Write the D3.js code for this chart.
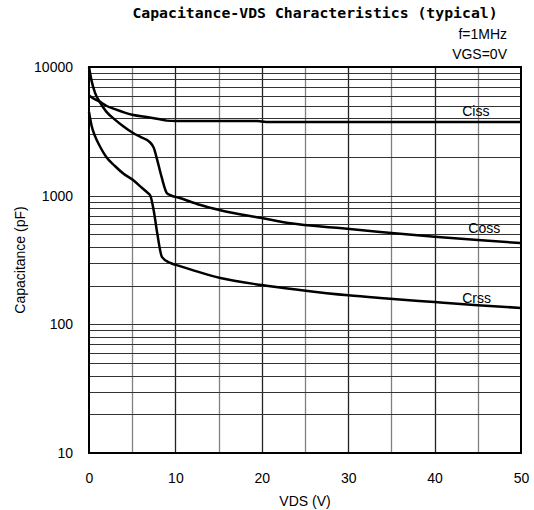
<!DOCTYPE html>
<html>
<head>
<meta charset="utf-8">
<script src="https://cdn.jsdelivr.net/npm/d3@7"></script>
<style>
  body { margin: 0; background: #fff; }
  text { font-family: "Liberation Sans", "Noto Sans", sans-serif; fill: #000; }
</style>
</head>
<body>
<div id="chart"></div>
<script>
const title = "Capacitance-VDS Characteristics (typical)";
const notes = ["f=1MHz", "VGS=0V"];
const xTicks = [0, 10, 20, 30, 40, 50];
const yTicks = [10, 100, 1000, 10000];

// VDS (V), capacitance (pF)
const cissV = [0, 0.5, 1.2, 2, 3, 5, 7, 8.2, 9, 10, 19.5, 20.5, 50];
const cissC = [6000, 5700, 5400, 5000, 4700, 4250, 4050, 3920, 3830, 3800, 3800, 3740, 3740];

const cossV = [0, 0.3, 0.7, 1.2, 2, 3, 4, 5.1, 6, 7, 7.5, 7.9, 8.4, 9, 9.4, 10.5, 12.8, 15.2, 20, 23.3, 29, 33.7, 40, 45, 50];
const cossC = [10000, 7800, 6300, 5400, 4500, 3900, 3450, 3070, 2850, 2620, 2350, 1890, 1400, 1050, 1010, 960, 850, 770, 670, 610, 560, 523, 480, 452, 428];

const crssV = [0, 0.3, 0.7, 1.3, 2, 3, 4, 5.1, 6, 6.8, 7.1, 7.5, 7.9, 8.45, 9.4, 10.5, 12, 15.2, 20, 24.4, 30, 33.7, 40, 45, 50];
const crssC = [4470, 3500, 2900, 2390, 2000, 1700, 1480, 1325, 1170, 1050, 1000, 760, 510, 333, 300, 284, 264, 229, 202, 185, 168, 160, 149, 141, 134];

const seriesNames = ["Ciss", "Coss", "Crss"];
const labelV = [43.2, 43.9, 43.2];
const labelC = [4160, 513, 147];

const margin = { top: 67, right: 13, bottom: 57, left: 89 },
  width = 534 - margin.left - margin.right,
  height = 510 - margin.top - margin.bottom;

const svg = d3
  .select("#chart")
  .append("svg")
  .attr("width", 534)
  .attr("height", 510);

const g = svg
  .append("g")
  .attr("transform", "translate(" + margin.left + "," + margin.top + ")");

const x = d3.scaleLinear().domain([0, 50]).range([0, width]);
const y = d3.scaleLog().domain([10, 10000]).range([height, 0]);

// vertical grid, every 5 V
g.append("g")
  .selectAll("line")
  .data(d3.range(5, 50, 5))
  .enter()
  .append("line")
  .attr("x1", (d) => Math.round(x(d)) + 0.5)
  .attr("x2", (d) => Math.round(x(d)) + 0.5)
  .attr("y1", 0)
  .attr("y2", height)
  .attr("stroke", (d) => (d % 10 === 0 ? "#222" : "#808080"))
  .attr("stroke-width", 1.3);

// horizontal grid, 2..10 of each decade
const yGrid = [];
[10, 100, 1000].forEach((dec) => {
  for (let k = 2; k <= 10; k++) yGrid.push(dec * k);
});
g.append("g")
  .selectAll("line")
  .data(yGrid)
  .enter()
  .append("line")
  .attr("x1", 0)
  .attr("x2", width)
  .attr("y1", (d) => Math.round(y(d)) + 0.5)
  .attr("y2", (d) => Math.round(y(d)) + 0.5)
  .attr("stroke", "#333")
  .attr("stroke-width", 1.2);

// frame
g.append("rect")
  .attr("x", 0)
  .attr("y", 0)
  .attr("width", width)
  .attr("height", height)
  .attr("fill", "none")
  .attr("stroke", "#000")
  .attr("stroke-width", 2);

// axes (labels only)
const xAxis = g
  .append("g")
  .attr("transform", "translate(0," + height + ")")
  .call(d3.axisBottom(x).tickValues(xTicks).tickSize(0).tickPadding(20));
xAxis.select(".domain").remove();
xAxis.selectAll("text").style("font-size", "14px").attr("font-family", null);

const yAxis = g
  .append("g")
  .call(d3.axisLeft(y).tickValues(yTicks).tickFormat(d3.format("d")).tickSize(0).tickPadding(16));
yAxis.select(".domain").remove();
yAxis.selectAll("text").style("font-size", "14px").attr("font-family", null);

// curves
const line = d3
  .line()
  .x((d) => x(d[0]))
  .y((d) => y(d[1]))
  .curve(d3.curveMonotoneX);

const series = [
  d3.zip(cissV, cissC),
  d3.zip(cossV, cossC),
  d3.zip(crssV, crssC),
];

g.append("g")
  .selectAll("path")
  .data(series)
  .enter()
  .append("path")
  .attr("d", line)
  .attr("fill", "none")
  .attr("stroke", "#000")
  .attr("stroke-width", 2.5);

g.append("g")
  .selectAll("text")
  .data(seriesNames)
  .enter()
  .append("text")
  .attr("x", (d, i) => x(labelV[i]))
  .attr("y", (d, i) => y(labelC[i]))
  .style("font-size", "14px")
  .text((d) => d);

// title and notes
svg
  .append("text")
  .attr("x", 315)
  .attr("y", 18)
  .attr("text-anchor", "middle")
  .style("font-family", "'DejaVu Sans Mono', monospace")
  .style("font-weight", "bold")
  .style("font-size", "14.8px")
  .text(title);

svg
  .append("g")
  .selectAll("text")
  .data(notes)
  .enter()
  .append("text")
  .attr("x", 507)
  .attr("y", (d, i) => 39 + i * 20)
  .attr("text-anchor", "end")
  .style("font-size", "14px")
  .text((d) => d);

svg
  .append("text")
  .attr("x", margin.left + width / 2)
  .attr("y", 506)
  .attr("text-anchor", "middle")
  .style("font-size", "14px")
  .text("VDS (V)");

svg
  .append("text")
  .attr("transform", "translate(25,260) rotate(-90)")
  .attr("text-anchor", "middle")
  .style("font-size", "14px")
  .text("Capacitance (pF)");
</script>
</body>
</html>
